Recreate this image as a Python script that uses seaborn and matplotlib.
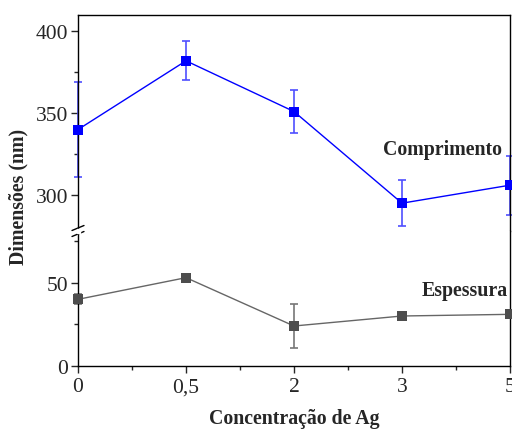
import matplotlib
matplotlib.use("Agg")
import matplotlib.pyplot as plt
import seaborn as sns
import pandas as pd
import numpy as np

categories = ["0", "0,5", "2", "3", "5"]
comprimento = [340, 382, 351, 295, 306]
comprimento_err = [29, 12, 13, 14, 18]
espessura = [40, 53, 24, 30, 31]
espessura_err = [3, 1, 13, 1, 1]

sns.set_style("ticks")
plt.rcParams['font.family'] = ['Liberation Serif', 'DejaVu Serif']
plt.rcParams['mathtext.fontset'] = 'stix'

fig = plt.figure(figsize=(5.12, 4.31), dpi=100)
L, R = 78 / 512, 510 / 512
top_y, mid_y, bot_y = 16, 232, 367
H = 431
ax_top = fig.add_axes([L, 1 - mid_y / H, R - L, (mid_y - top_y) / H])
ax_bot = fig.add_axes([L, 1 - bot_y / H, R - L, (bot_y - mid_y) / H])

x = np.arange(len(categories))
df_c = pd.DataFrame({"x": x, "y": comprimento})
df_e = pd.DataFrame({"x": x, "y": espessura})

blue = "#0000ff"
gray = "#4d4d4d"

ax_top.errorbar(x, comprimento, yerr=comprimento_err, fmt="none", ecolor="#4f4fff",
                elinewidth=1.2, capsize=3, capthick=1.2, clip_on=False, zorder=2)
sns.lineplot(data=df_c, x="x", y="y", ax=ax_top, color=blue, lw=1.0, marker="s",
             markersize=6.5, markeredgewidth=0, markerfacecolor=blue, clip_on=False, zorder=3)

ax_bot.errorbar(x, espessura, yerr=espessura_err, fmt="none", ecolor="#777777",
                elinewidth=1.2, capsize=3, capthick=1.2, clip_on=False, zorder=2)
sns.lineplot(data=df_e, x="x", y="y", ax=ax_bot, color="#666666", lw=1.0, marker="s",
             markersize=6.5, markeredgewidth=0, markerfacecolor=gray, clip_on=False, zorder=3)

ax_top.set_ylim(278, 410)
ax_bot.set_ylim(0, 81)
for ax in (ax_top, ax_bot):
    ax.set_xlim(0, 4)
    ax.set_xlabel("")
    ax.set_ylabel("")
    for s in ax.spines.values():
        s.set_linewidth(1.0)
        s.set_color("black")
    ax.tick_params(axis="y", which="major", direction="out", length=5, width=1, labelsize=15.5, pad=2)
    ax.tick_params(axis="y", which="minor", direction="out", length=3, width=1)

ax_top.set_yticks([300, 350, 400])
ax_top.set_yticks([325, 375], minor=True)
ax_bot.set_yticks([0, 50])
ax_bot.set_yticks([25, 75], minor=True)

ax_top.spines["bottom"].set_visible(False)
ax_top.spines["top"].set_visible(True)
ax_top.spines["right"].set_visible(True)
ax_top.tick_params(axis="x", which="both", bottom=False, top=False, labelbottom=False)
ax_bot.spines["top"].set_visible(False)
ax_bot.spines["right"].set_visible(True)

ax_bot.set_xticks(x)
ax_bot.set_xticklabels(categories)
ax_bot.set_xticks(x[:-1] + 0.5, minor=True)
ax_bot.tick_params(axis="x", which="major", direction="out", length=5, width=1, labelsize=15.5, pad=3)
ax_bot.tick_params(axis="x", which="minor", direction="out", length=3, width=1)

# break marks on left spine
bx = L * 512
for dy in (-3, 3):
    fig.add_artist(plt.Line2D([(bx - 6) / 512, (bx + 6) / 512],
                              [1 - (mid_y + dy + 2.5) / H, 1 - (mid_y + dy - 2.5) / H],
                              color="black", lw=1.0, transform=fig.transFigure))
fig.add_artist(plt.Rectangle(((bx - 1.5) / 512, 1 - (mid_y + 2) / H),
                             3 / 512, 4 / H, transform=fig.transFigure, color="white", zorder=5))

fig.text(383 / 512, 1 - 150 / H, "Comprimento", fontsize=14.3, fontweight="bold", va="center", ha="left")
fig.text(422 / 512, 1 - 291 / H, "Espessura", fontsize=14.3, fontweight="bold", va="center", ha="left")
fig.text(18 / 512, 1 - 197 / H, "Dimensões (nm)", fontsize=14.3, fontweight="bold", rotation=90,
         va="center", ha="center")
fig.text(294 / 512, 1 - 419 / H, "Concentração de Ag", fontsize=14.3, fontweight="bold",
         va="center", ha="center")

fig.savefig("out.png", dpi=100, facecolor="white")
